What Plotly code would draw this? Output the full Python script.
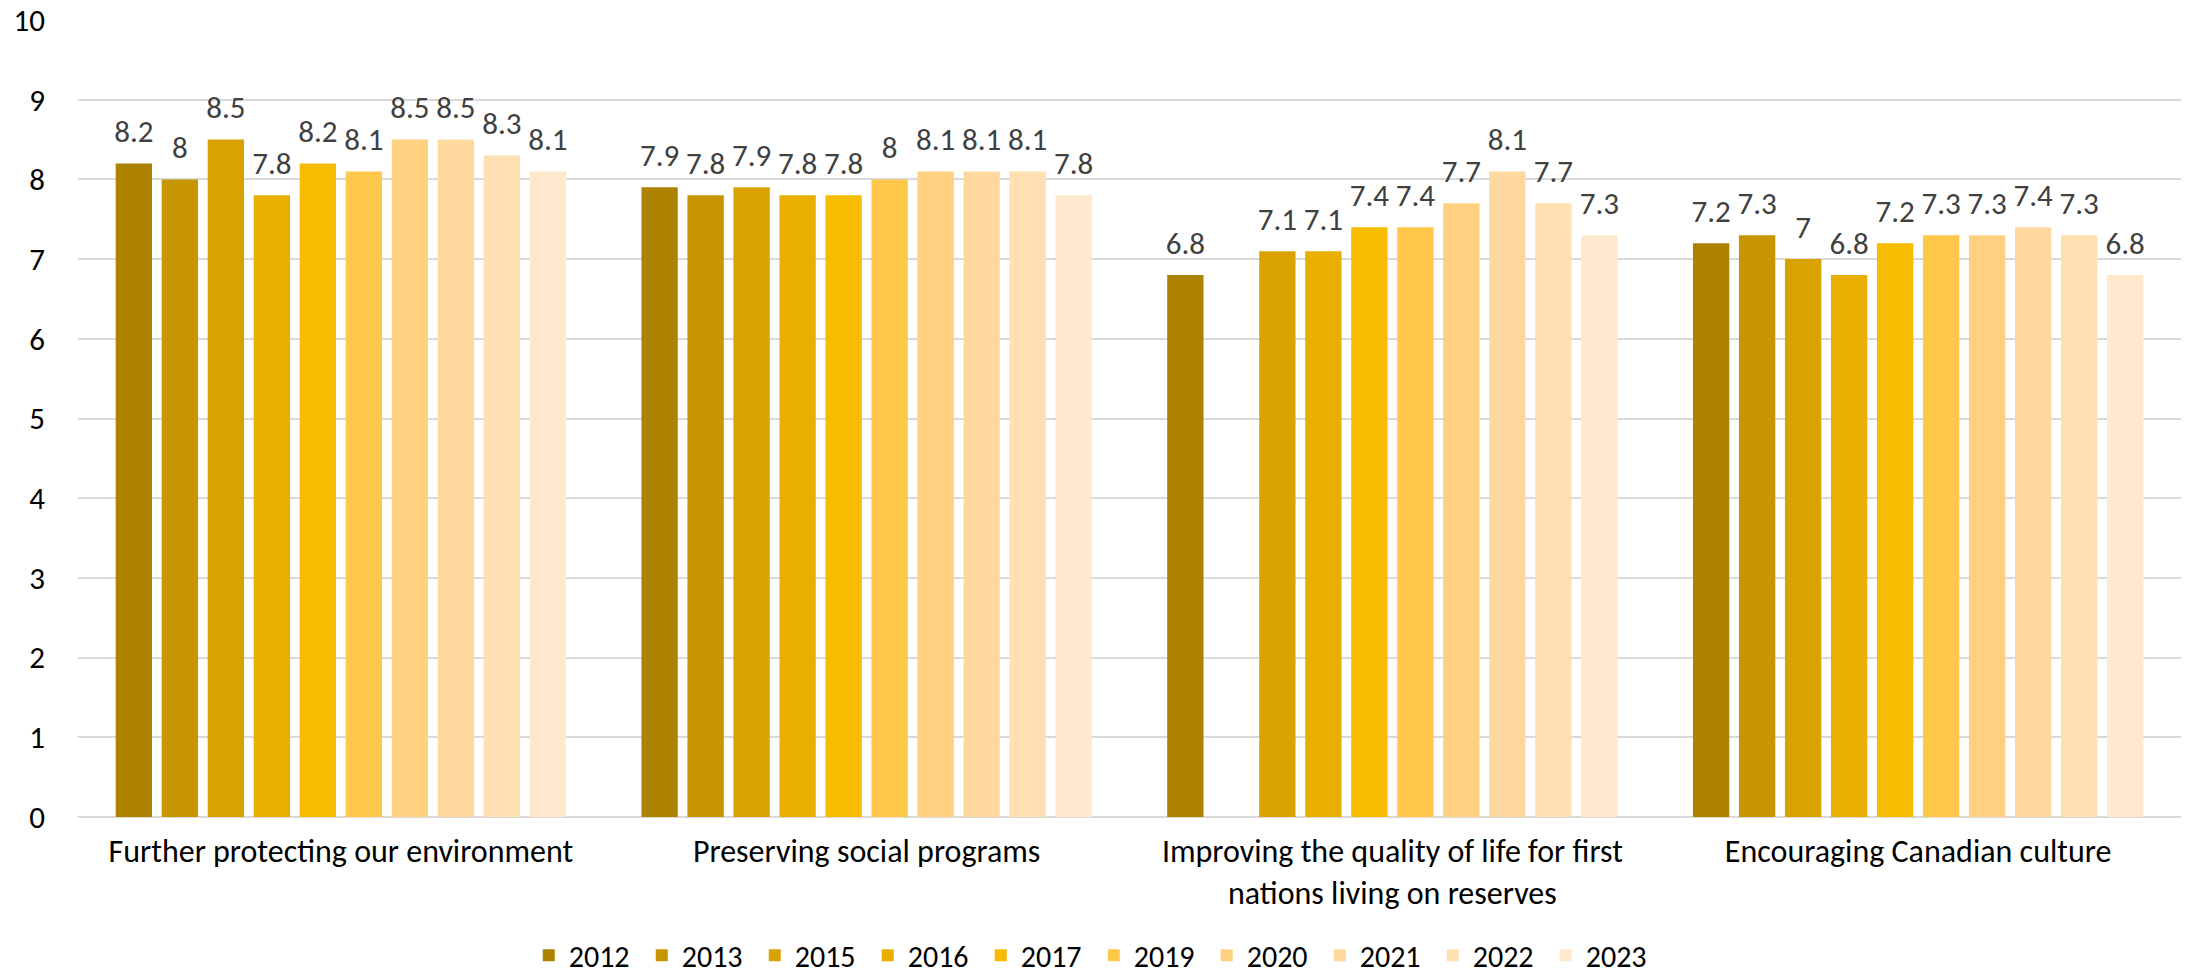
import plotly.graph_objects as go

categories = [
    "Further protecting our environment",
    "Preserving social programs",
    "Improving the quality of life for first<br>nations living on reserves",
    "Encouraging Canadian culture",
]
years = ["2012", "2013", "2015", "2016", "2017", "2019", "2020", "2021", "2022", "2023"]
values = {
    "2012": [8.2, 7.9, 6.8, 7.2],
    "2013": [8.0, 7.8, None, 7.3],
    "2015": [8.5, 7.9, 7.1, 7.0],
    "2016": [7.8, 7.8, 7.1, 6.8],
    "2017": [8.2, 7.8, 7.4, 7.2],
    "2019": [8.1, 8.0, 7.4, 7.3],
    "2020": [8.5, 8.1, 7.7, 7.3],
    "2021": [8.5, 8.1, 8.1, 7.4],
    "2022": [8.3, 8.1, 7.7, 7.3],
    "2023": [8.1, 7.8, 7.3, 6.8],
}
colors = ["#AD8200", "#C69500", "#D8A300", "#E9AF00", "#F7BB00",
          "#FFC84A", "#FFD080", "#FFD89F", "#FFE0B3", "#FFE8CC"]

FONT = "Carlito, Calibri, Lato, sans-serif"
BARGAP = 0.125

fig = go.Figure()
for y, c in zip(years, colors):
    fig.add_trace(go.Bar(
        name=y, x=categories, y=values[y],
        marker=dict(color=c, line=dict(width=0)),
        legendgroup=y,
    ))
for y in years:
    vals = values[y]
    fig.add_trace(go.Scatter(
        x=categories, y=vals, mode="markers+text",
        text=[("" if v is None else f"{v:g}") for v in vals],
        textposition="top center",
        textfont=dict(color="#404040", size=31, family=FONT),
        marker=dict(size=20, opacity=0),
        showlegend=False, hoverinfo="skip", cliponaxis=False,
        legendgroup=y,
    ))

fig.update_layout(
    width=2185, height=975,
    barmode="group", bargap=BARGAP, bargroupgap=0.21,
    scattermode="group", scattergap=BARGAP,
    plot_bgcolor="white", paper_bgcolor="white",
    margin=dict(l=78, r=4, t=20, b=158, autoexpand=False),
    font=dict(family=FONT, size=28, color="black"),
    showlegend=True,
    legend=dict(orientation="h", x=0.483, xanchor="center", y=-0.206, yanchor="bottom",
                font=dict(size=30, family=FONT, color="black"),
                entrywidth=68, entrywidthmode="pixels",
                traceorder="normal"),
    yaxis=dict(range=[0, 10], dtick=1, showgrid=True, gridcolor="#D9D9D9", gridwidth=1.5,
               zeroline=True, zerolinecolor="#D9D9D9", zerolinewidth=1.5,
               tickfont=dict(size=31, family=FONT), ticks="", showline=False,
               ticklabelstandoff=32, automargin=False),
    xaxis=dict(tickfont=dict(size=32, family=FONT), ticks="", showline=False,
               ticklabelstandoff=12, automargin=False),
)

fig.write_html("out.html", config={"displayModeBar": False},
               post_script="document.body.style.margin='0';document.body.style.overflow='hidden';")
